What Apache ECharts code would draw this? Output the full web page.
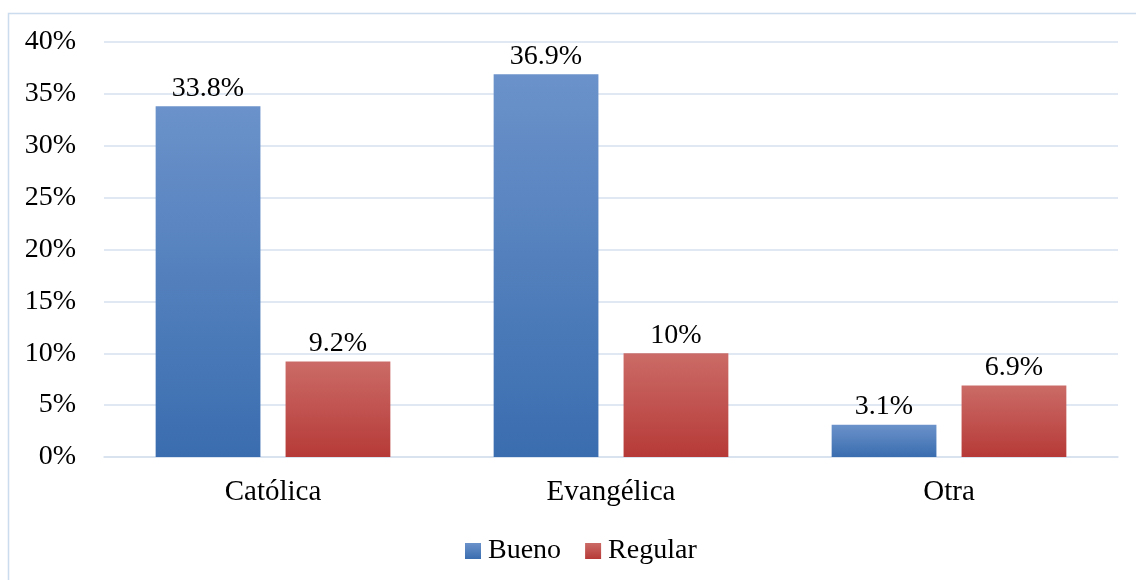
<!DOCTYPE html>
<html>
<head>
<meta charset="utf-8">
<style>
  html, body { margin: 0; padding: 0; background: #ffffff; }
  #chart { width: 1136px; height: 580px; }
</style>
<script src="https://cdn.jsdelivr.net/npm/echarts@6/dist/echarts.min.js"></script>
</head>
<body>
<div id="chart"></div>
<script>
// Religión por valoración
const categories = ['Católica', 'Evangélica', 'Otra'];
const bueno = [33.8, 36.9, 3.1];
const regular = [9.2, 10, 6.9];
const seriesNames = ['Bueno', 'Regular'];

const FONT = '"Liberation Serif", "Times New Roman", serif';
const FS = 28;

function grad(top, bottom) {
  return new echarts.graphic.LinearGradient(0, 0, 0, 1, [
    { offset: 0, color: top },
    { offset: 1, color: bottom }
  ]);
}

const chart = echarts.init(document.getElementById('chart'));

const labelStyle = {
  show: true,
  position: 'top',
  distance: 4,
  fontFamily: FONT,
  fontSize: FS,
  color: '#000',
  formatter: p => p.value + '%'
};

chart.setOption({
  animation: false,
  graphic: [{
    type: 'rect',
    shape: { x: 8.5, y: 13.5, width: 1140, height: 580 },
    style: { fill: 'none', stroke: '#CCDCEF', lineWidth: 1.5 },
    silent: true
  }],
  grid: { left: 104, right: 18, top: 42, bottom: 123 },
  legend: {
    bottom: 10,
    left: 460,
    icon: 'rect',
    itemWidth: 16,
    itemHeight: 16,
    itemGap: 24,
    textStyle: { fontFamily: FONT, fontSize: FS, color: '#000', padding: [0, 0, 0, 2] },
    data: seriesNames
  },
  xAxis: {
    type: 'category',
    data: categories,
    axisTick: { show: false },
    axisLine: { lineStyle: { color: '#D6E1EF', width: 1.5 } },
    axisLabel: { fontFamily: FONT, fontSize: 29, color: '#000', margin: 21 }
  },
  yAxis: {
    type: 'value',
    min: 0,
    max: 40,
    interval: 5,
    axisLabel: {
      fontFamily: FONT, fontSize: FS, color: '#000', margin: 28,
      formatter: v => v + '%'
    },
    splitLine: { lineStyle: { color: '#D6E1EF', width: 1.5 } },
    axisLine: { show: false },
    axisTick: { show: false }
  },
  series: [
    {
      name: seriesNames[0],
      type: 'bar',
      data: bueno,
      barWidth: '31%',
      barGap: '24%',
      itemStyle: { color: grad('#6B92CA', '#3A6DAF') },
      label: labelStyle
    },
    {
      name: seriesNames[1],
      type: 'bar',
      data: regular,
      barWidth: '31%',
      itemStyle: { color: grad('#CB6B67', '#B63A37') },
      label: labelStyle
    }
  ]
});
</script>
</body>
</html>
